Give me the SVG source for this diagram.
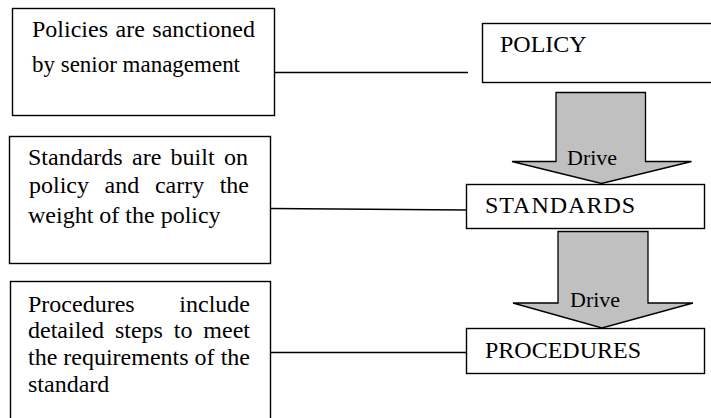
<svg xmlns="http://www.w3.org/2000/svg" width="711" height="418" viewBox="0 0 711 418">
  <style>
    .box { fill: #ffffff; stroke: #000000; stroke-width: 1.4; }
    .link { fill: none; stroke: #000000; stroke-width: 1.4; }
    .drive { fill: #c0c0c0; stroke: #000000; stroke-width: 1.3; }
    .txt { font-family: "Liberation Serif", "Times New Roman", serif; font-size: 24px; fill: #000000; }
    .lbl { font-size: 22px; }
  </style>
  <rect width="711" height="418" fill="#ffffff"/>

  <!-- connectors: description boxes to the hierarchy levels -->
  <g id="connectors">
    <line class="link" x1="274.5" y1="72.5" x2="468" y2="72.5"/>
    <line class="link" x1="270.5" y1="208.5" x2="467" y2="210"/>
    <line class="link" x1="270.5" y1="352.5" x2="467" y2="352.5"/>
  </g>

  <g class="txt">
    <!-- descriptions -->
    <g id="desc-policy">
      <rect class="box" x="12.5" y="8.5" width="262" height="107"/>
      <text y="37"><tspan x="32">Policies</tspan><tspan x="115.5">are</tspan><tspan x="255" text-anchor="end">sanctioned</tspan></text>
      <text x="32" y="72" textLength="208" lengthAdjust="spacingAndGlyphs">by senior management</text>
    </g>

    <g id="desc-standards">
      <rect class="box" x="9.5" y="136.5" width="261" height="127"/>
      <text y="165"><tspan x="28">Standards</tspan><tspan x="132">are</tspan><tspan x="170.6">built</tspan><tspan x="248" text-anchor="end">on</tspan></text>
      <text y="193"><tspan x="29">policy</tspan><tspan x="104.6">and</tspan><tspan x="154.9">carry</tspan><tspan x="249" text-anchor="end">the</tspan></text>
      <text x="28" y="223">weight of the policy</text>
    </g>

    <g id="desc-procedures">
      <rect class="box" x="10.5" y="281.5" width="260" height="140"/>
      <text y="312"><tspan x="28">Procedures</tspan><tspan x="250" text-anchor="end">include</tspan></text>
      <text y="338"><tspan x="28">detailed</tspan><tspan x="114.9">steps</tspan><tspan x="173.8">to</tspan><tspan x="250" text-anchor="end">meet</tspan></text>
      <text y="365"><tspan x="28">the</tspan><tspan x="63.3">requirements</tspan><tspan x="194.6">of</tspan><tspan x="250" text-anchor="end">the</tspan></text>
      <text x="28" y="391.5">standard</text>
    </g>

    <!-- hierarchy levels and the arrows between them -->
    <g id="policy">
      <rect class="box" x="482.5" y="23.5" width="240" height="59"/>
      <text x="500" y="52">POLICY</text>
    </g>

    <g id="drive-1">
      <polygon class="drive" points="556,92.5 645.5,92.5 645.5,161.5 691.5,161.5 601.5,183.5 512,161.5 556,161.5"/>
      <text class="lbl" x="567" y="165">Drive</text>
    </g>

    <g id="standards">
      <rect class="box" x="466.5" y="184.5" width="238" height="44"/>
      <text x="485" y="213" letter-spacing="1">STANDARDS</text>
    </g>

    <g id="drive-2">
      <polygon class="drive" points="558,231.5 648,231.5 648,303 693,303 602,328 513,303 558,303"/>
      <text class="lbl" x="570" y="307">Drive</text>
    </g>

    <g id="procedures">
      <rect class="box" x="466.5" y="328.5" width="238" height="45"/>
      <text x="485" y="358">PROCEDURES</text>
    </g>
  </g>
</svg>
